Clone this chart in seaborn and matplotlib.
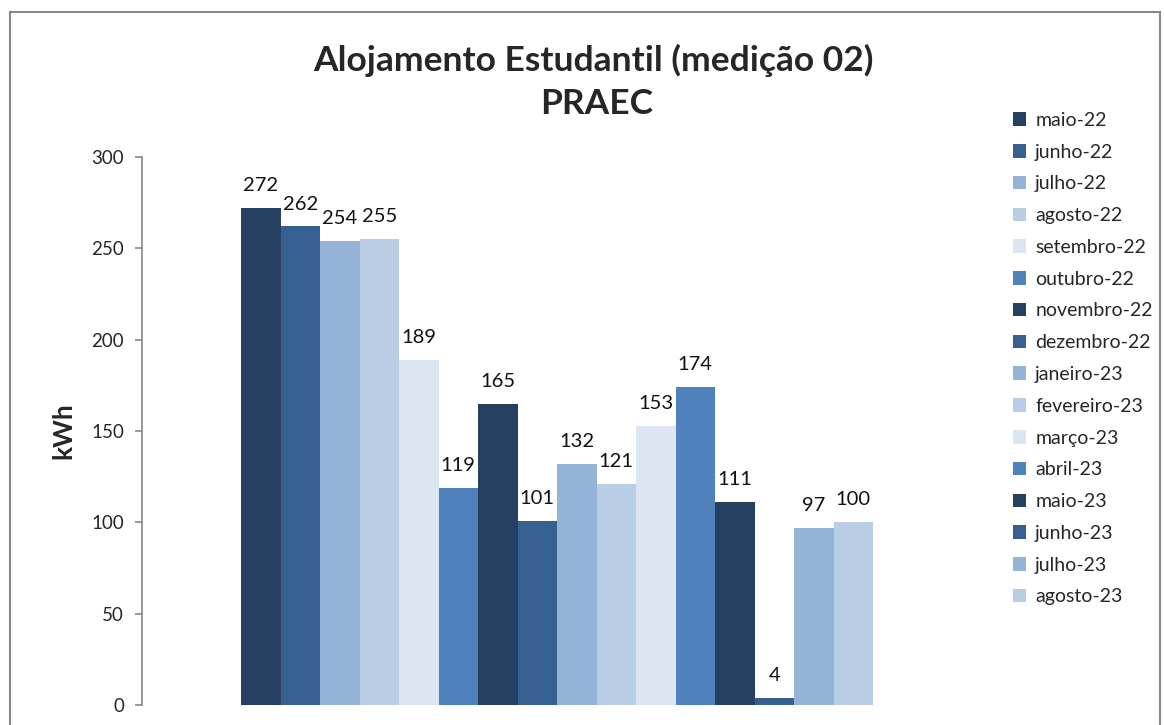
import matplotlib
matplotlib.use("Agg")
import matplotlib.pyplot as plt
import seaborn as sns
import pandas as pd
from matplotlib.patches import Rectangle

months = ["maio-22", "junho-22", "julho-22", "agosto-22", "setembro-22", "outubro-22",
          "novembro-22", "dezembro-22", "janeiro-23", "fevereiro-23", "março-23", "abril-23",
          "maio-23", "junho-23", "julho-23", "agosto-23"]
values = [272, 262, 254, 255, 189, 119, 165, 101, 132, 121, 153, 174, 111, 4, 97, 100]
base_colors = ["#254061", "#376092", "#95B3D7", "#B9CDE5", "#DCE6F2", "#4F81BD"]
palette = [base_colors[i % 6] for i in range(len(months))]

df = pd.DataFrame({"cat": [""] * len(months), "mes": months, "kwh": values})

sns.set_theme(style="white")
plt.rcParams["font.family"] = ["Lato", "DejaVu Sans"]

fig = plt.figure(figsize=(11.64, 7.25), dpi=100)
ax = fig.add_axes([142 / 1164, 1 - 705 / 725, (972 - 142) / 1164, (705 - 157) / 725])

sns.barplot(data=df, x="cat", y="kwh", hue="mes", hue_order=months, palette=palette,
            width=632 / 830, saturation=1, linewidth=0, edgecolor="none", ax=ax, legend=True)

for cont in ax.containers:
    ax.bar_label(cont, fmt="%d", padding=10, fontsize=14.5, color="#111111")

ax.set_xlim(-0.5, 0.5)
ax.set_ylim(0, 300)
ax.set_yticks(range(0, 301, 50))
ax.set_xticks([])
ax.set_xlabel("")
ax.set_ylabel("kWh", fontsize=19, fontweight="bold")
ax.yaxis.set_label_coords((75 - 142) / 830, 0.5)
ax.tick_params(axis="y", which="both", left=True, length=5, width=1.2, color="#888888",
               labelsize=13.5, pad=8, direction="out")
for s in ["top", "right", "bottom"]:
    ax.spines[s].set_visible(False)
ax.spines["left"].set_color("#888888")
ax.spines["left"].set_linewidth(1.2)

leg = ax.legend(loc="upper left", bbox_to_anchor=(1005 / 1164, 1 - 104 / 725),
                bbox_transform=fig.transFigure, frameon=False, fontsize=14,
                handlelength=0.7, handleheight=0.7, handletextpad=0.45,
                labelspacing=0.76, borderaxespad=0)

fig.text(593 / 1164, 1 - 60 / 725, "Alojamento Estudantil (medição 02)", ha="center",
         va="center", fontsize=25.5, fontweight="bold")
fig.text(597 / 1164, 1 - 104 / 725, "PRAEC", ha="center", va="center",
         fontsize=25.5, fontweight="bold")

fig.patches.append(Rectangle((10 / 1164, -0.05), 1150 / 1164, 1 - 12 / 725 + 0.05,
                             transform=fig.transFigure, fill=False,
                             edgecolor="#888888", linewidth=1.5))

fig.savefig("out.png", dpi=100)
